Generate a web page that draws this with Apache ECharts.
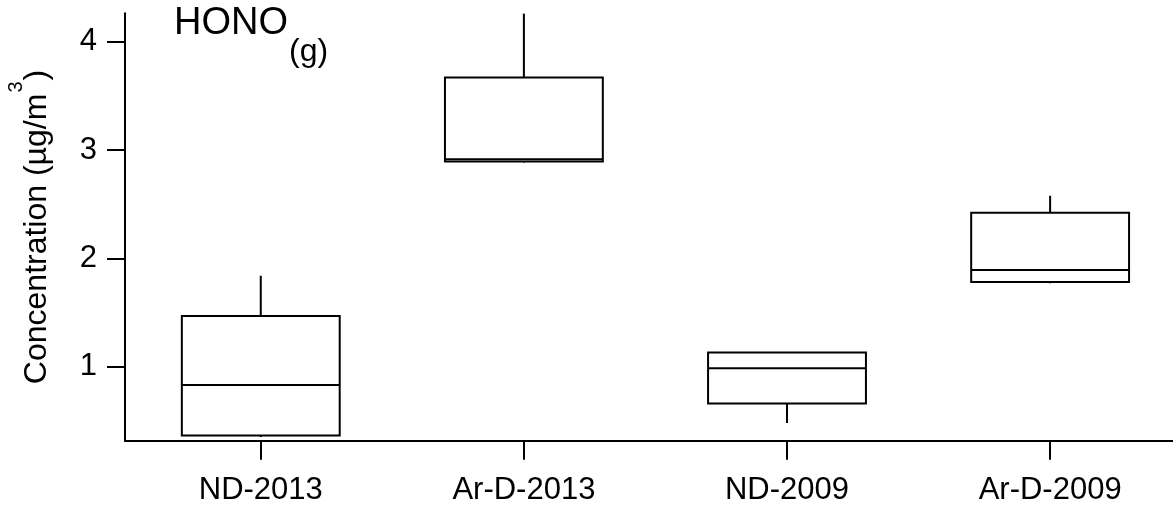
<!DOCTYPE html>
<html>
<head>
<meta charset="utf-8">
<script src="https://cdn.jsdelivr.net/npm/echarts@6/dist/echarts.min.js"></script>
<style>
  html, body { margin: 0; padding: 0; background: #fff; }
  #chart { width: 1173px; height: 510px; }
</style>
</head>
<body>
<div id="chart"></div>
<script>
// Groups on the horizontal axis
const categories = ['ND-2013', 'Ar-D-2013', 'ND-2009', 'Ar-D-2009'];

// Box statistics per group (µg/m³)
const lowWhisker  = [0.35, 2.885, 0.48, 1.77];
const lowerQuart  = [0.365, 2.895, 0.66, 1.782];
const medians     = [0.83, 2.915, 0.985, 1.892];
const upperQuart  = [1.468, 3.67, 1.13, 2.42];
const highWhisker = [1.84, 4.26, 1.135, 2.578];

// Tick values on the concentration axis
const yTicks = [1, 2, 3, 4];

const boxData = categories.map((c, i) => [
  i, lowWhisker[i], lowerQuart[i], medians[i], upperQuart[i], highWhisker[i]
]);
const catIndex = categories.map((c, i) => i);

const FONT = '"Liberation Sans", Arial, Helvetica, sans-serif';
const LW = 2;

// Box with median line and plain whiskers (no end caps)
function renderBox(params, api) {
  const x = api.value(0);
  const pLow = api.coord([x, api.value(1)]);
  const pQ1 = api.coord([x, api.value(2)]);
  const pMed = api.coord([x, api.value(3)]);
  const pQ3 = api.coord([x, api.value(4)]);
  const pHigh = api.coord([x, api.value(5)]);
  const unit = api.size([1, 0])[0];
  const half = unit * 0.3;
  const cx = pMed[0];
  const style = { stroke: '#000', lineWidth: LW, fill: null };
  return {
    type: 'group',
    children: [
      { type: 'line', shape: { x1: cx, y1: pQ3[1], x2: cx, y2: pHigh[1] }, style: style },
      { type: 'line', shape: { x1: cx, y1: pQ1[1], x2: cx, y2: pLow[1] }, style: style },
      { type: 'rect', shape: { x: cx - half, y: pQ3[1], width: half * 2, height: pQ1[1] - pQ3[1] },
        style: { stroke: '#000', lineWidth: LW, fill: '#fff' } },
      { type: 'line', shape: { x1: cx - half, y1: pMed[1], x2: cx + half, y2: pMed[1] }, style: style }
    ]
  };
}

const chart = echarts.init(document.getElementById('chart'), null, { renderer: 'canvas' });
chart.setOption({
  animation: false,
  backgroundColor: '#fff',
  title: {
    text: '{h|HONO}{g|(g)}',
    left: 174,
    top: 4.5,
    padding: 0,
    textStyle: {
      fontWeight: 'normal',
      rich: {
        h: { fontFamily: FONT, fontSize: 38, lineHeight: 38, fontWeight: 'normal', color: '#000', verticalAlign: 'top' },
        g: { fontFamily: FONT, fontSize: 32, lineHeight: 32, fontWeight: 'normal', color: '#000', verticalAlign: 'top', padding: [32, 0, 0, 1] }
      }
    }
  },
  grid: {
    left: 125,
    right: 0,
    top: 13.3,
    bottom: 69.3,
    outerBoundsMode: 'none'
  },
  xAxis: {
    type: 'value',
    min: -0.516,
    max: 3.467,
    splitLine: { show: false },
    axisLine: { show: true, onZero: false, lineStyle: { color: '#000', width: LW } },
    axisTick: {
      show: true,
      inside: false,
      length: 19,
      customValues: catIndex,
      lineStyle: { color: '#000', width: LW }
    },
    axisLabel: {
      show: true,
      customValues: catIndex,
      margin: 34,
      fontFamily: FONT,
      fontSize: 31,
      color: '#000',
      formatter: v => categories[Math.round(v)] || ''
    }
  },
  yAxis: {
    type: 'value',
    min: 0.317,
    max: 4.262,
    name: '{a|Concentration (µg/m}{s|3}{a|)}',
    nameLocation: 'middle',
    nameGap: 72,
    nameTextStyle: {
      rich: {
        a: { fontFamily: FONT, fontSize: 32, lineHeight: 32, color: '#000', verticalAlign: 'bottom' },
        s: { fontFamily: FONT, fontSize: 20, lineHeight: 20, color: '#000', verticalAlign: 'bottom', padding: [0, 1, 27, 1] }
      }
    },
    splitLine: { show: false },
    axisLine: { show: true, onZero: false, lineStyle: { color: '#000', width: LW } },
    axisTick: {
      show: true,
      inside: false,
      length: 18,
      customValues: yTicks,
      lineStyle: { color: '#000', width: LW }
    },
    axisLabel: {
      show: true,
      customValues: yTicks,
      margin: 28,
      fontFamily: FONT,
      fontSize: 31,
      color: '#000'
    }
  },
  series: [{
    type: 'custom',
    renderItem: renderBox,
    encode: { x: 0, y: [1, 2, 3, 4, 5] },
    data: boxData,
    clip: true
  }]
});
</script>
</body>
</html>
